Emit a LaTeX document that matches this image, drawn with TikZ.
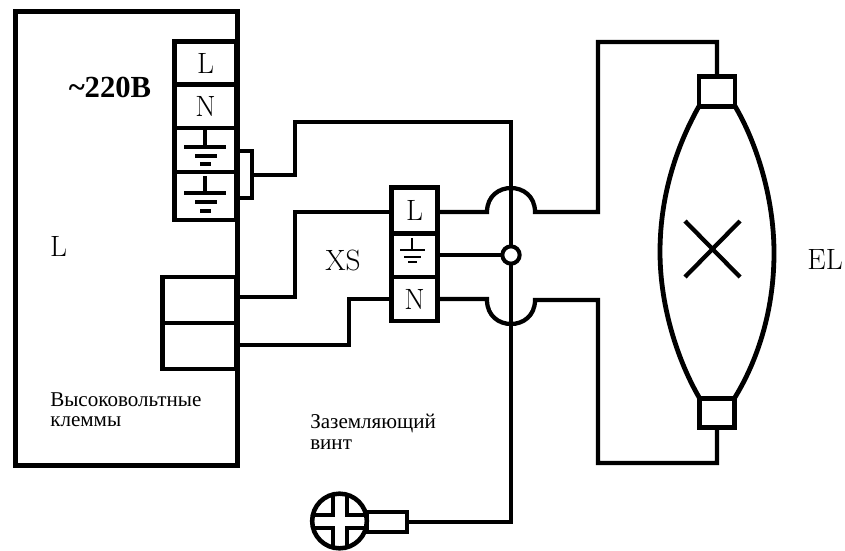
\documentclass[tikz,border=0pt]{standalone}
\usepackage{fontspec}
\newfontfamily\cyrserif{Liberation Serif}
\tikzset{
	wire/.style={line width=3.2pt},
	thinwire/.style={line width=2.5pt},
	signwire/.style={line width=2pt},
	bulbwire/.style={line width=3.6pt},
	cell/.style={draw, rectangle, line width=3.6pt, inner sep=0pt, outer sep=0pt, font=\fontsize{22}{24}\selectfont},
	bigtext/.style={inner sep=0pt, font=\fontsize{22}{24}\selectfont},
	smalltext/.style={inner sep=0pt, align=left, font=\cyrserif\fontsize{15.8}{15.5}\selectfont},
}
\begin{document}
\begin{tikzpicture}[x=0.75pt, y=-0.75pt]
	\useasboundingbox (0,0) rectangle (845,550);
	\node[cell, minimum width=166pt, minimum height=340pt] (Case)at(126.5, 238.5) {};
	\node[cell, minimum width=47pt, minimum height=32pt] (TermL)at(205.5, 63) {L};
	\node[cell, minimum width=47pt, minimum height=33pt] (TermN)at(205.5, 106) {N};
	\node[cell, minimum width=47pt, minimum height=33pt] (TermE)at(205.5, 150) {};
	\node[cell, minimum width=47pt, minimum height=36pt] (TermF)at(205.5, 196) {};
	\node[cell, minimum width=56pt, minimum height=34.5pt] (HvA)at(199.5, 300) {};
	\node[cell, minimum width=56pt, minimum height=34.5pt] (HvB)at(199.5, 346) {};
	\node[cell, minimum width=34pt, minimum height=34pt] (XsL)at(414.5, 210.5) {L};
	\node[cell, minimum width=34pt, minimum height=33pt] (XsE)at(414.5, 255) {};
	\node[cell, minimum width=34pt, minimum height=33pt] (XsN)at(414.5, 299) {N};
	\node[cell, minimum width=27pt, minimum height=22pt] (CapT)at(717, 91.5) {};
	\node[cell, minimum width=26pt, minimum height=22pt] (CapB)at(717, 413) {};
	\node[cell, minimum width=30pt, minimum height=15pt] (ScrewT)at(387, 522) {};
	\node[bigtext] (Lb)at(58.5, 246) {L};
	\node[bigtext] (XS)at(343, 260) {XS};
	\node[bigtext] (EL)at(825, 259) {EL};
	\node[inner sep=0pt, font=\cyrserif\bfseries\fontsize{23}{25}\selectfont] (V)at(110, 87) {\textasciitilde 220В};
	\node[smalltext, anchor=north west] (HV)at(50, 392) {Высоковольтные\\клеммы};
	\node[smalltext, anchor=north west] (GS)at(310, 414) {Заземляющий\\винт};

	\coordinate (BrT)at(252, 151);
	\coordinate (BrM)at(252, 175);
	\coordinate (BrB)at(252, 198);
	\coordinate (GndA)at(295, 122);
	\coordinate (GndB)at(511, 122);
	\coordinate (WaA)at(295, 212);
	\coordinate (WaB)at(295, 297);
	\coordinate (WbA)at(349, 299);
	\coordinate (HopLa)at(487, 212);
	\coordinate (HopLb)at(535, 212);
	\coordinate (HopNa)at(487, 300);
	\coordinate (HopNb)at(535, 300);
	\coordinate (LampT)at(598, 42);
	\coordinate (LampB)at(598, 463);
	\coordinate (BulbL)at(660, 252);
	\coordinate (BulbR)at(774, 253);

	\draw[wire] (BrT -| TermE.east) -- (BrT) -- (BrB) -- (BrB -| TermF.east);
	\draw[wire] (BrM) -| (GndA) -- (GndB) |- (ScrewT.east);
	\draw[wire] (HvA.east |- WaB) -- (WaB) -- (WaA) -- (WaA -| XsL.west);
	\draw[wire] (HvB.east |- 0,345) -| (WbA) -- (XsN.west);
	\draw[wire] (XsL.east |- HopLa) -- (HopLa) .. controls +(0,-32) and +(0,-32) .. (HopLb) -| (LampT) -| (CapT.north);
	\draw[wire] (XsN.east) -- (XsN.east -| HopNa) -- (HopNa) .. controls +(0,32) and +(0,32) .. (HopNb) -| (LampB) -| (CapB.south);
	\node[draw, circle, line width=3pt, fill=white, minimum size=13pt, inner sep=0pt, outer sep=0pt] (Joint)at(511, 255) {};
	\draw[wire] (XsE.east) -- (Joint.west);

	% earth signs
	\draw[thinwire] (205,130) -- (205,147) (184,147) -- (226,147) (195,156) -- (217,156) (200,164) -- (211,164);
	\draw[thinwire] (205,176) -- (205,193) (184,193) -- (226,193) (195,202) -- (217,202) (200,211) -- (211,211);
	\draw[signwire] (412,238) -- (412,250) (400,250) -- (425,250) (404,257) -- (421,257) (408,262) -- (417,262);

	% lamp
	\draw[bulbwire] (CapT.south west) .. controls (680,140) and (660,190) .. (BulbL) .. controls (660,310) and (680,365) .. (CapB.north west);
	\draw[bulbwire] (CapT.south east) .. controls (755,140) and (774,195) .. (BulbR) .. controls (774,315) and (755,365) .. (CapB.north east);
	\draw[wire] (685,221) -- (740,277);
	\draw[wire] (740,221) -- (685,277);

	% screw head
	\node[draw, circle, line width=3.4pt, fill=white, minimum size=41pt, inner sep=0pt, outer sep=0pt] (ScrewH)at(339.5, 521) {};
	\draw[wire] (333,494) -- (333,515) -- (312,515);
	\draw[wire] (347,494) -- (347,515) -- (367,515);
	\draw[wire] (333,548) -- (333,528) -- (312,528);
	\draw[wire] (347,548) -- (347,528) -- (367,528);
\end{tikzpicture}
\end{document}
